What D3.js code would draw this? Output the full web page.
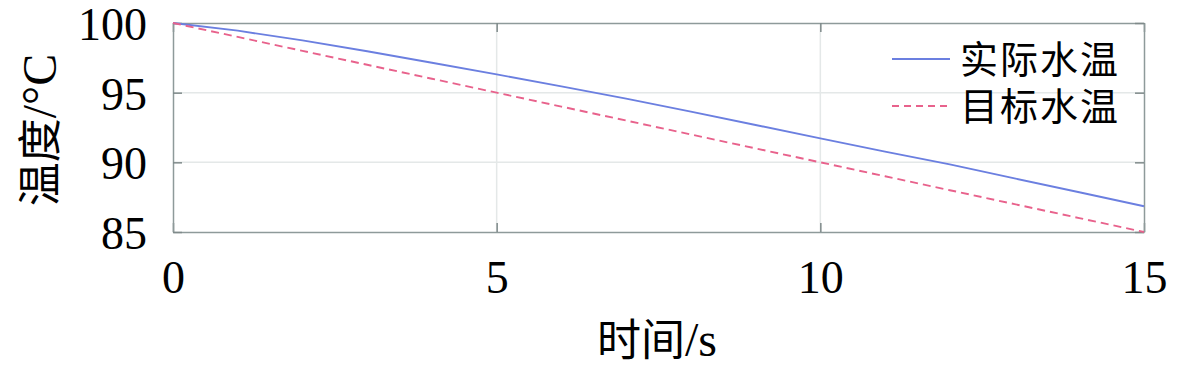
<!DOCTYPE html>
<html>
<head>
<meta charset="utf-8">
<script src="https://cdn.jsdelivr.net/npm/d3@7"></script>
<style>
  body { margin: 0; background: #fff; }
  svg text { font-family: "Liberation Serif", "Noto Sans CJK SC", serif; fill: #000; }
</style>
</head>
<body>
<div id="chart"></div>
<script>
const times = [0, 1, 2, 3, 4, 5, 6, 7, 8, 9, 10, 11, 12, 13, 14, 15];
const actualTemp = [100, 99.45, 98.75, 97.97, 97.15, 96.31, 95.45, 94.57, 93.64, 92.68, 91.72, 90.77, 89.85, 88.85, 87.85, 86.85];
const targetTemp = [100, 99, 98, 97, 96, 95, 94, 93, 92, 91, 90, 89, 88, 87, 86, 85];
const xTicks = [0, 5, 10, 15];
const yTicks = [85, 90, 95, 100];
const seriesNames = ["实际水温", "目标水温"];

const width = 1181, height = 372;
const margin = { top: 23, right: 37, bottom: 140, left: 173 };
const cjk = "'Noto Sans CJK SC'";
const serif = "'Liberation Serif'";

const svg = d3.select("#chart").append("svg")
    .attr("width", width)
    .attr("height", height);

const x = d3.scaleLinear().domain([0, 15]).range([margin.left, width - margin.right]);
const y = d3.scaleLinear().domain([85, 100]).range([height - margin.bottom, margin.top]);

// grid
svg.append("g")
    .attr("stroke", "#e4e8e8")
    .attr("stroke-width", 1.5)
    .selectAll("line.v")
    .data(xTicks.slice(1, -1))
    .join("line")
        .attr("x1", d => x(d)).attr("x2", d => x(d))
        .attr("y1", y(85)).attr("y2", y(100));

svg.append("g")
    .attr("stroke", "#e4e8e8")
    .attr("stroke-width", 1.5)
    .selectAll("line.h")
    .data(yTicks.slice(1, -1))
    .join("line")
        .attr("y1", d => y(d)).attr("y2", d => y(d))
        .attr("x1", x(0)).attr("x2", x(15));

function styleAxis(g) {
    g.selectAll(".domain").attr("stroke", "#8e9a9a").attr("stroke-width", 1.5);
    g.selectAll(".tick line").attr("stroke", "#7f8a8a").attr("stroke-width", 1.5);
}

svg.append("g")
    .attr("transform", `translate(0,${y(85)})`)
    .call(d3.axisBottom(x).tickValues(xTicks).tickSizeInner(-9).tickSizeOuter(0).tickPadding(28))
    .call(styleAxis)
    .call(g => g.selectAll("text").attr("font-size", 46).attr("dy", "0.71em")
        .style("font-family", serif));

svg.append("g")
    .attr("transform", `translate(0,${y(100)})`)
    .call(d3.axisTop(x).tickValues(xTicks).tickSizeInner(-9).tickSizeOuter(0).tickFormat(""))
    .call(styleAxis);

svg.append("g")
    .attr("transform", `translate(${x(0)},0)`)
    .call(d3.axisLeft(y).tickValues(yTicks).tickSizeInner(-9).tickSizeOuter(0).tickPadding(26))
    .call(styleAxis)
    .call(g => g.selectAll("text").attr("font-size", 46).attr("dy", "0.36em")
        .style("font-family", serif));

svg.append("g")
    .attr("transform", `translate(${x(15)},0)`)
    .call(d3.axisRight(y).tickValues(yTicks).tickSizeInner(-9).tickSizeOuter(0).tickFormat(""))
    .call(styleAxis);

// lines
const line = d3.line()
    .x((d, i) => x(times[i]))
    .y(d => y(d));

svg.append("path")
    .datum(actualTemp)
    .attr("fill", "none")
    .attr("stroke", "#6b7fe0")
    .attr("stroke-width", 1.9)
    .attr("d", line);

svg.append("path")
    .datum(targetTemp)
    .attr("fill", "none")
    .attr("stroke", "#e8628c")
    .attr("stroke-width", 1.9)
    .attr("stroke-dasharray", "8,5")
    .attr("d", line);

// axis titles
const xTitle = svg.append("text")
    .attr("x", 657)
    .attr("y", 356)
    .attr("text-anchor", "middle")
    .attr("font-size", 44);
xTitle.append("tspan").style("font-family", cjk).text("时间");
xTitle.append("tspan").style("font-family", serif).attr("font-size", 48).text("/s");

const yTitle = svg.append("text")
    .attr("transform", `translate(56,130) rotate(-90)`)
    .attr("text-anchor", "middle")
    .attr("font-size", 44);
yTitle.append("tspan").style("font-family", cjk).text("温度");
yTitle.append("tspan").style("font-family", serif).attr("font-size", 48).text("/°C");

// legend
const legend = svg.append("g");
const legendColors = ["#6b7fe0", "#e8628c"];
const legendDash = [null, "7,5"];
seriesNames.forEach((name, i) => {
    const ly = 59 + i * 47;
    legend.append("line")
        .attr("x1", 892).attr("x2", 950)
        .attr("y1", ly).attr("y2", ly)
        .attr("stroke", legendColors[i])
        .attr("stroke-width", 1.9)
        .attr("stroke-dasharray", legendDash[i]);
    legend.append("text")
        .attr("x", 960)
        .attr("y", ly)
        .attr("dy", "0.36em")
        .attr("font-size", 38)
        .attr("letter-spacing", 2)
        .style("font-family", cjk)
        .text(name);
});
</script>
</body>
</html>
